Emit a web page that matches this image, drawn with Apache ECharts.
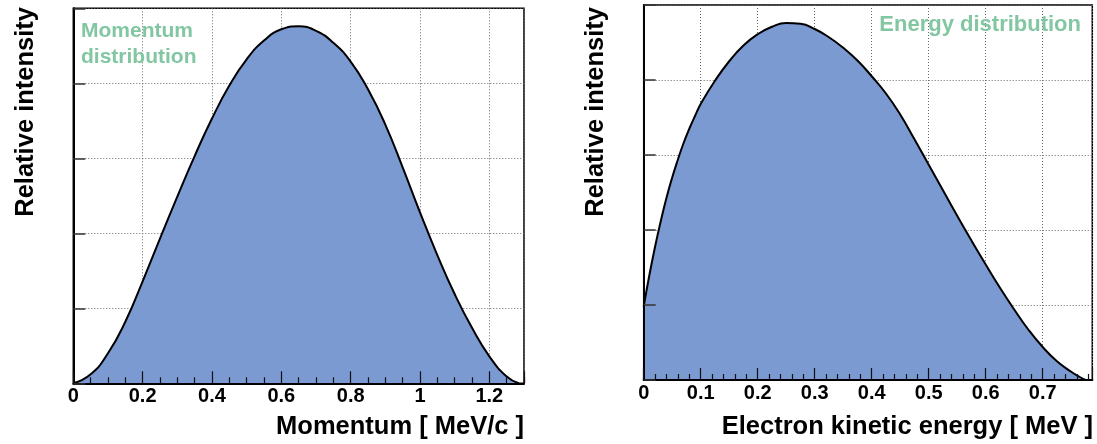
<!DOCTYPE html>
<html>
<head>
<meta charset="utf-8">
<script src="https://cdn.jsdelivr.net/npm/echarts@6/dist/echarts.min.js"></script>
<style>
  html, body { margin: 0; padding: 0; background: #fff; }
  #chart { width: 1097px; height: 444px; }
</style>
</head>
<body>
<div id="chart"></div>
<script>
"use strict";

// ── Datos ──────────────────────────────────────────────────────────────────
const momentum = [0, 0.05, 0.10, 0.15, 0.20, 0.25, 0.30, 0.35, 0.40, 0.45, 0.50, 0.55, 0.60,
  0.65, 0.70, 0.75, 0.80, 0.85, 0.90, 0.95, 1.00, 1.05, 1.10, 1.15, 1.20, 1.25, 1.285];
const momentumIntensity = [0, 0.12, 0.40, 0.82, 1.36, 1.93, 2.49, 3.03, 3.53, 3.97, 4.32, 4.57, 4.72,
  4.76, 4.70, 4.54, 4.29, 3.92, 3.45, 2.88, 2.28, 1.71, 1.19, 0.74, 0.36, 0.09, 0];

const energy = [0, 0.01, 0.02, 0.03, 0.04, 0.05, 0.06, 0.07, 0.08, 0.09, 0.10,
  0.125, 0.15, 0.175, 0.20, 0.225, 0.25, 0.275, 0.30, 0.325, 0.35, 0.375, 0.40, 0.425,
  0.45, 0.475, 0.50, 0.525, 0.55, 0.575, 0.60, 0.625, 0.65, 0.675, 0.70, 0.725, 0.75,
  0.765, 0.775];
const energyIntensity = [0.98, 1.40, 1.78, 2.12, 2.43, 2.70, 2.94, 3.16, 3.35, 3.52, 3.68,
  3.99, 4.25, 4.46, 4.61, 4.71, 4.76, 4.75, 4.68, 4.57, 4.43, 4.26, 4.05, 3.82,
  3.54, 3.21, 2.87, 2.53, 2.19, 1.86, 1.54, 1.23, 0.94, 0.67, 0.44, 0.25, 0.11,
  0.04, 0];

const xTitles = ["Momentum [ MeV/c ]", "Electron kinetic energy [ MeV ]"];
const yTitle = "Relative intensity";
const labels = ["Momentum\ndistribution", "Energy distribution"];

// ── Estilos ────────────────────────────────────────────────────────────────
const FILL = "#7b9ad1";
const GREEN = "#82c6a2";
const FONT = "'Liberation Sans', Arial, sans-serif";

function pairs(xs, ys) { return xs.map((x, i) => [x, ys[i]]); }

// ejes de grilla (debajo del área) y ejes con marcas (encima)
function gridXAxis(idx, max, interval) {
  return {
    type: "value", gridIndex: idx, position: "bottom", min: 0, max, interval, z: 0,
    axisLine: { show: false }, axisTick: { show: false }, axisLabel: { show: false },
    splitLine: { show: true, lineStyle: { color: "#666", width: 1, type: [1, 2] } },
  };
}
function tickXAxis(idx, max, interval, minorSplit) {
  return {
    type: "value", gridIndex: idx, position: "bottom", offset: 0, min: 0, max, interval, z: 5,
    axisLine: { show: true, onZero: false, lineStyle: { color: "#000", width: 2 } },
    axisTick: { show: true, inside: true, length: 12, lineStyle: { color: "#111", width: 1.2 } },
    minorTick: { show: true, splitNumber: minorSplit, length: 6, lineStyle: { color: "#111", width: 1.2 } },
    axisLabel: {
      show: true, margin: 3, showMaxLabel: false,
      fontFamily: FONT, fontWeight: "bold", fontSize: 20, color: "#000",
    },
    splitLine: { show: false },
  };
}
function gridYAxis(idx) {
  return {
    type: "value", gridIndex: idx, position: "left", min: 0, max: 5, interval: 1, z: 0,
    axisLine: { show: false }, axisTick: { show: false }, axisLabel: { show: false },
    splitLine: { show: true, lineStyle: { color: "#666", width: 1, type: [1, 2] } },
  };
}
function tickYAxis(idx) {
  return {
    type: "value", gridIndex: idx, position: "left", offset: 0, min: 0, max: 5, interval: 1, z: 5,
    axisLine: { show: true, onZero: false, lineStyle: { color: "#000", width: 2 } },
    axisTick: { show: true, inside: true, length: 12, lineStyle: { color: "#333", width: 1.5 } },
    axisLabel: { show: false },
    splitLine: { show: false },
  };
}

function curve(idx, data) {
  return {
    type: "line", xAxisIndex: idx * 2 + 1, yAxisIndex: idx * 2 + 1,
    data, smooth: 0.5, symbol: "none", z: 2,
    lineStyle: { color: "#000", width: 2 },
    areaStyle: { color: FILL, opacity: 1 },
    silent: true,
  };
}

const chart = echarts.init(document.getElementById("chart"), null, { renderer: "canvas" });

chart.setOption({
  animation: false,
  grid: [
    { left: 73.3, top: 8.3, width: 450.7, height: 375, show: true, borderColor: "#000", borderWidth: 1.5, backgroundColor: "transparent" },
    { left: 643.7, top: 5, width: 448.6, height: 375, show: true, borderColor: "#000", borderWidth: 1.5, backgroundColor: "transparent" },
  ],
  xAxis: [
    gridXAxis(0, 1.3, 0.2), tickXAxis(0, 1.3, 0.2, 4),
    gridXAxis(1, 0.787, 0.1), tickXAxis(1, 0.787, 0.1, 5),
  ],
  yAxis: [
    gridYAxis(0), tickYAxis(0),
    gridYAxis(1), tickYAxis(1),
  ],
  series: [
    curve(0, pairs(momentum, momentumIntensity)),
    curve(1, pairs(energy, energyIntensity)),
  ],
  graphic: [
    // títulos de ejes
    { type: "text", x: 524, y: 427, z: 10, style: { text: xTitles[0], fill: "#000", font: `bold 25.5px ${FONT}`, textAlign: "right", textVerticalAlign: "middle" } },
    { type: "text", x: 1093, y: 427, z: 10, style: { text: xTitles[1], fill: "#000", font: `bold 25.5px ${FONT}`, textAlign: "right", textVerticalAlign: "middle" } },
    { type: "text", x: 26, y: 7, rotation: Math.PI / 2, z: 10, style: { text: yTitle, fill: "#000", font: `bold 25.5px ${FONT}`, textAlign: "right", textVerticalAlign: "middle" } },
    { type: "text", x: 596, y: 7, rotation: Math.PI / 2, z: 10, style: { text: yTitle, fill: "#000", font: `bold 25.5px ${FONT}`, textAlign: "right", textVerticalAlign: "middle" } },
    // rótulos verdes
    { type: "text", x: 81, y: 18, z: 10, style: { text: labels[0], fill: GREEN, font: `bold 21px ${FONT}`, lineHeight: 26, textAlign: "left", textVerticalAlign: "top" } },
    { type: "text", x: 1081, y: 25, z: 10, style: { text: labels[1], fill: GREEN, font: `bold 22px ${FONT}`, textAlign: "right", textVerticalAlign: "middle" } },
  ],
});
</script>
</body>
</html>
